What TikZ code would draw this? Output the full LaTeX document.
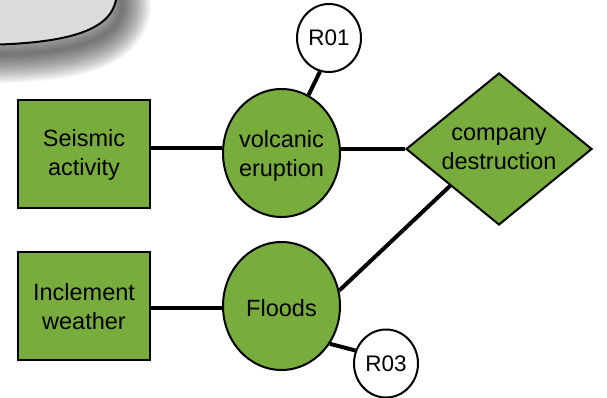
\documentclass[tikz,border=0pt]{standalone}
\usepackage{fontspec}
\setmainfont{Liberation Sans}
\usetikzlibrary{shapes.geometric,backgrounds}
\definecolor{leaf}{RGB}{120,172,60}
\definecolor{panel}{RGB}{220,220,220}
\tikzset{
  lbl/.style={font=\fontsize{23.5}{29}\selectfont, align=center, text=black, inner sep=0pt},
  cause/.style={draw=black, line width=2pt, fill=leaf, minimum width=132pt, minimum height=108pt, inner sep=0pt},
  event/.style={ellipse, draw=black, line width=2pt, fill=leaf, minimum width=117pt, minimum height=128pt, inner sep=0pt},
  conseq/.style={diamond, draw=black, line width=2pt, fill=leaf, minimum width=186pt, minimum height=152pt, inner sep=0pt},
  risk/.style={ellipse, draw=black, line width=2pt, fill=white, minimum width=64pt, minimum height=68pt, inner sep=0pt, font=\fontsize{22.5}{26}\selectfont},
  link/.style={draw=black, line width=4pt}
}
\begin{document}
\begin{tikzpicture}[x=1pt,y=-1pt]
\useasboundingbox (0,0) rectangle (607,398);
% soft shadow of the grey panel
\begin{scope}[shift={(6,10)}]
\foreach \i in {1,...,24}{
  \draw[black, opacity=0.03, line width=2.4*\i pt, line join=round]
    (-30,-30) -- (-30,45) .. controls (70,45) and (110,30) .. (116,0) -- (116,-30) -- cycle;
}
\end{scope}
% grey panel
\fill[panel] (-30,-30) -- (-30,45) .. controls (70,45) and (110,30) .. (116,0) -- (116,-30) -- cycle;
\draw[black, line width=2pt] (-30,45) .. controls (70,45) and (110,30) .. (116,0) -- (116,-30);

% nodes
\node[cause] (seis) at (84,154) {};
\node[lbl] (seist) at (84,155) {Seismic\\activity};
\node[cause] (incl) at (84,306) {};
\node[lbl] (inclt) at (84,307) {Inclement\\weather};
\node[event] (volc) at (281.5,153) {};
\node[lbl] (volct) at (281.5,156) {volcanic\\eruption};
\node[event] (flood) at (281.5,306) {};
\node[lbl] (floodt) at (281.5,308) {Floods};
\node[conseq] (dest) at (499,149) {};
\node[lbl] (destt) at (499,149) {company\\destruction};
\node[risk] (r01) at (329,38) {R01};
\node[risk] (r03) at (386,363.5) {R03};

% connectors
\begin{scope}[on background layer]
\draw[link] ([yshift=6pt]seis.east) -- ([yshift=5pt]volc.west);
\draw[link] ([yshift=4pt]volc.east) -- (dest.west);
\draw[link] ([yshift=-2pt]incl.east) -- ([yshift=-2pt]flood.west);
\draw[link] (flood.15) -- (dest.217);
\draw[link] (r01.255) -- (volc.65);
\draw[link] (flood.-38) -- (r03.157);
\end{scope}
\end{tikzpicture}
\end{document}
